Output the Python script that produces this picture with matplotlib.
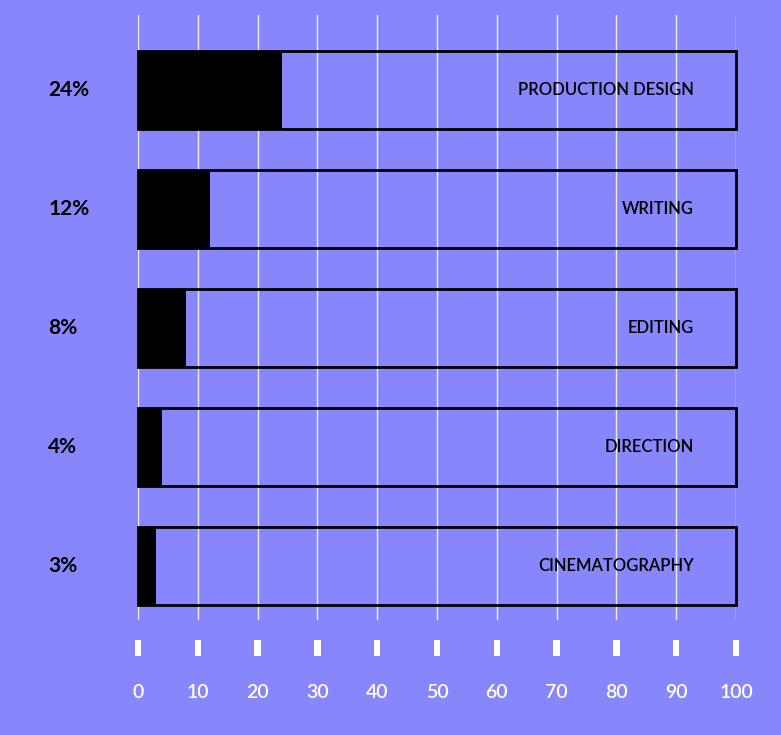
import matplotlib
matplotlib.use("Agg")
import matplotlib.pyplot as plt
import matplotlib.transforms as mtrans

categories = ["PRODUCTION DESIGN", "WRITING", "EDITING", "DIRECTION", "CINEMATOGRAPHY"]
values = [24, 12, 8, 4, 3]
pct_labels = ["24%", "12%", "8%", "4%", "3%"]
ticks = [0, 10, 20, 30, 40, 50, 60, 70, 80, 90, 100]

bg = "#8787FB"
W, H = 781, 735
fig = plt.figure(figsize=(W/100, H/100), dpi=100, facecolor=bg)
ax = fig.add_axes([138/W, (H-620)/H, 598/W, 605/H])
ax.set_facecolor(bg)
for s in ax.spines.values():
    s.set_visible(False)
ax.set_xlim(0, 100)
ax.set_ylim(4.454, -0.63)
ax.set_xticks([]); ax.set_yticks([])
for t in ticks:
    ax.axvline(t, color="white", lw=1, zorder=0, alpha=0.85)

ypos = list(range(len(categories)))
h = 0.655
ax.barh(ypos, values, height=h, color="black", zorder=2)
outl = ax.barh(ypos, [100]*len(ypos), height=h, facecolor="none", edgecolor="black", lw=2, zorder=3)
for p in outl:
    p.set_clip_on(False)

for y, c, p in zip(ypos, categories, pct_labels):
    ax.text(93, y, "\u2009".join(c) if False else c, ha="right", va="center", fontsize=12,
            fontweight="semibold", family="Lato", color="black", zorder=4)
    ax.text(-15, y, p, ha="left", va="center", fontsize=15, fontweight="bold",
            family="Lato", color="black")

tr = mtrans.blended_transform_factory(ax.transData, fig.transFigure)
for t in ticks:
    ax.add_patch(plt.Rectangle((t-0.55, (H-656)/H), 1.1, 16/H, transform=tr,
                               facecolor="white", edgecolor="none", clip_on=False))
    ax.text(t, (H-693)/H, str(t), transform=tr, ha="center", va="center",
            fontsize=14, color="white", family="Lato", fontweight="semibold")

fig.savefig("out.png", dpi=100, facecolor=bg)
